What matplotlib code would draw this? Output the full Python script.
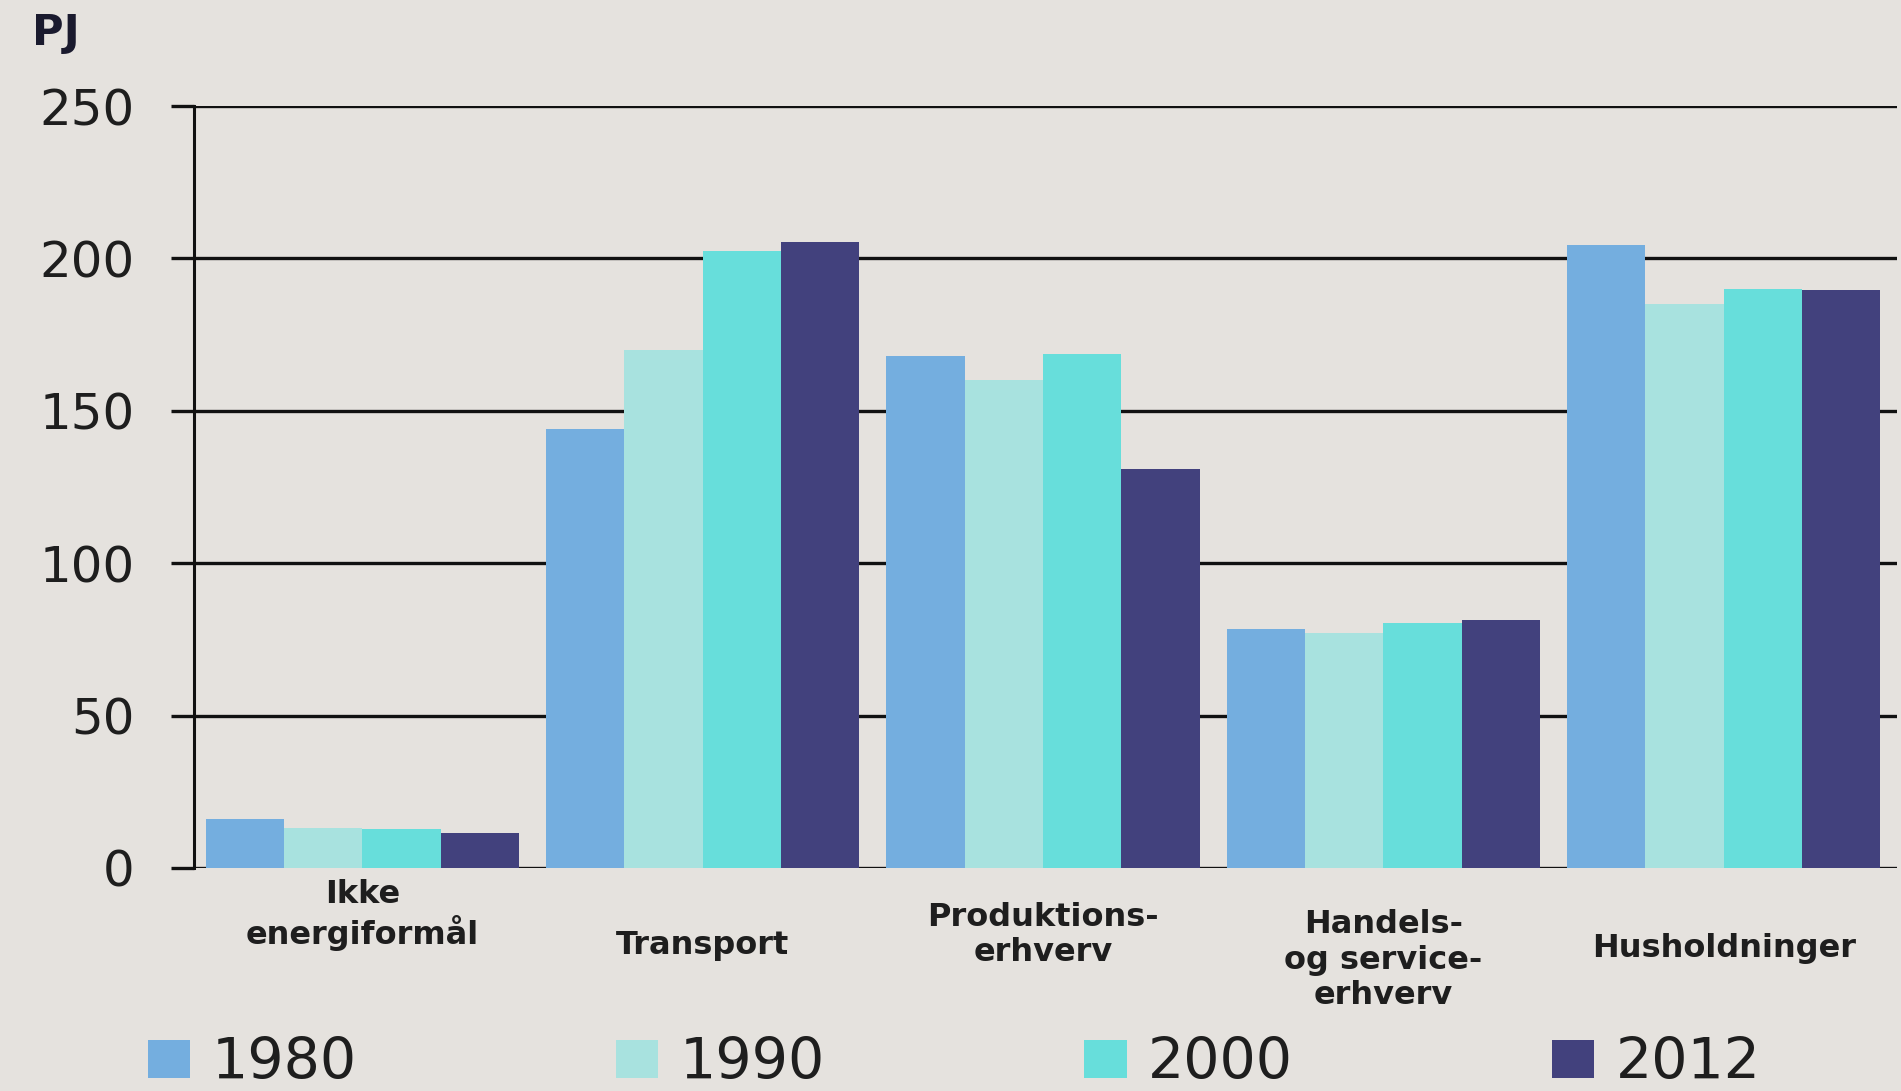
import numpy as np
import matplotlib
matplotlib.use("Agg")
import matplotlib.pyplot as plt

# === Dados (PJ) ===
categorias = ["Ikke\nenergiformål", "Transport", "Produktions-\nerhverv",
              "Handels-\nog service-\nerhverv", "Husholdninger"]
anos = ["1980", "1990", "2000", "2012"]
v1980 = [16, 144, 168, 78.5, 204.5]
v1990 = [13, 170, 160, 77, 185]
v2000 = [12.7, 202.5, 168.5, 80.5, 190]
v2012 = [11.5, 205.5, 131, 81.5, 189.5]
yticks = [0, 50, 100, 150, 200, 250]

series = [v1980, v1990, v2000, v2012]
cores = ["#74aedf", "#a8e2df", "#67dedb", "#42417d"]
fundo = "#e5e2de"
texto = "#1e1e1e"

# posicao vertical (fracao do eixo) de cada rotulo de categoria
label_y = [-0.062, -0.102, -0.088, -0.121, -0.105]

fig = plt.figure(figsize=(19.01, 10.91), dpi=100, facecolor=fundo)
ax = fig.add_axes([0.102, 0.2044, 0.896, 0.6984], facecolor=fundo)

x = np.arange(len(categorias))
largura = 0.23
for i, (vals, cor, ano) in enumerate(zip(series, cores, anos)):
    ax.bar(x + (i - 1.5) * largura, vals, largura, color=cor, label=ano,
           zorder=3, linewidth=0)

ax.set_xlim(-0.495, 4.51)
ax.set_ylim(0, 250)
ax.set_yticks(yticks)
ax.set_yticklabels([str(t) for t in yticks], fontsize=36, color=texto)
ax.tick_params(axis="y", length=16.5, width=2.4, color="#111111", pad=26)
ax.tick_params(axis="x", length=0)
ax.set_xticks([])
ax.yaxis.grid(True, color="#111111", linewidth=2.4, zorder=0)
ax.set_axisbelow(True)

for lado in ["top", "right", "bottom"]:
    ax.spines[lado].set_visible(False)
ax.spines["left"].set_linewidth(2.2)
ax.spines["left"].set_color("#111111")

for xi, nome, yy in zip(x, categorias, label_y):
    ax.text(xi, yy, nome, transform=ax.get_xaxis_transform(), ha="center",
            va="center", fontsize=23, fontweight="bold", color=texto,
            linespacing=1.18, multialignment="center")

fig.text(0.017, 0.989, "PJ", ha="left", va="top", fontsize=31,
         fontweight="bold", color="#1a1a2e")

fig.legend(loc="lower left", bbox_to_anchor=(0.078, 0.0), ncol=4,
           frameon=False, fontsize=41, handlelength=0.74, handleheight=0.67,
           handletextpad=0.38, columnspacing=4.55, borderaxespad=0,
           borderpad=0, labelcolor=texto)

fig.savefig("out.png", dpi=100, facecolor=fundo)
